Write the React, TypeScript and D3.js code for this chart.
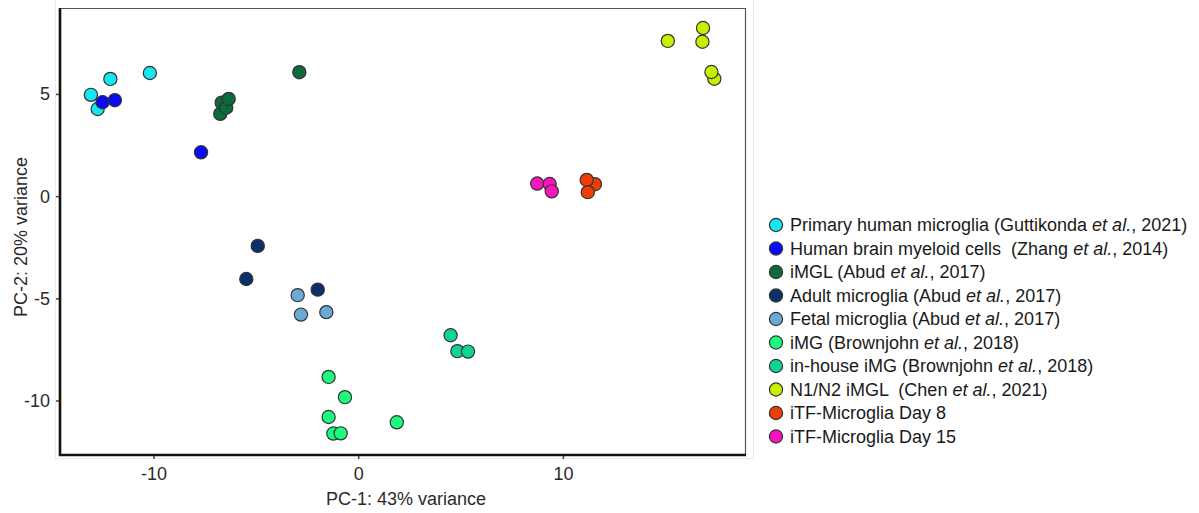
import React from "react";
import * as d3 from "d3";

const groupNames: { pre: string; it?: string; post?: string }[] = [
  { pre: "Primary human microglia (Guttikonda ", it: "et al.", post: ", 2021)" },
  { pre: "Human brain myeloid cells  (Zhang ", it: "et al.", post: ", 2014)" },
  { pre: "iMGL (Abud ", it: "et al.", post: ", 2017)" },
  { pre: "Adult microglia (Abud ", it: "et al.", post: ", 2017)" },
  { pre: "Fetal microglia (Abud ", it: "et al.", post: ", 2017)" },
  { pre: "iMG (Brownjohn ", it: "et al.", post: ", 2018)" },
  { pre: "in-house iMG (Brownjohn ", it: "et al.", post: ", 2018)" },
  { pre: "N1/N2 iMGL  (Chen ", it: "et al.", post: ", 2021)" },
  { pre: "iTF-Microglia Day 8" },
  { pre: "iTF-Microglia Day 15" },
];

const groupColors = [
  "#14E6F2",
  "#0A0AF5",
  "#0B6B3C",
  "#0B2F6B",
  "#6AAAD6",
  "#1BFA7A",
  "#10D398",
  "#C5F000",
  "#F03C05",
  "#FA14BE",
];

// PCA coordinates (PC-1, PC-2) and group index per sample
const pc1 = [
  -13.08, -12.75, -12.13, -10.2,
  -12.51, -11.91, -7.7,
  -2.9, -6.76, -6.69, -6.47, -6.35,
  -4.93, -5.49, -2.0,
  -2.98, -2.82, -1.58,
  -1.47, -0.67, -1.47, -1.24, -0.88, 1.86,
  4.49, 4.82, 5.34,
  15.1, 16.82, 16.79, 17.37, 17.23,
  11.54, 11.14, 11.19,
  8.72, 9.33, 9.43,
];
const pc2 = [
  4.98, 4.29, 5.76, 6.05,
  4.62, 4.72, 2.17,
  6.09, 4.05, 4.6, 4.35, 4.78,
  -2.41, -4.03, -4.55,
  -4.82, -5.77, -5.65,
  -8.82, -9.81, -10.78, -11.59, -11.58, -11.04,
  -6.78, -7.56, -7.58,
  7.62, 8.25, 7.58, 5.77, 6.1,
  0.61, 0.82, 0.22,
  0.64, 0.62, 0.26,
];
const group = [
  0, 0, 0, 0,
  1, 1, 1,
  2, 2, 2, 2, 2,
  3, 3, 3,
  4, 4, 4,
  5, 5, 5, 5, 5, 5,
  6, 6, 6,
  7, 7, 7, 7, 7,
  8, 8, 8,
  9, 9, 9,
];

const xTicks = [-10, 0, 10];
const yTicks = [-10, -5, 0, 5];
const xTitle = "PC-1: 43% variance";
const yTitle = "PC-2: 20% variance";

const W = 1199;
const H = 513;
const FONT = "'Liberation Sans', Arial, sans-serif";

export default function App() {
  const left = 60, right = 745, top = 8, bottom = 455;
  const x = d3.scaleLinear().domain([-14.59, 18.87]).range([left, right]);
  const y = d3.scaleLinear().domain([-12.64, 9.23]).range([bottom, top]);

  const legendX = 776;
  const legendY0 = 225;
  const legendStep = 23.5;

  return (
    <svg
      width={W}
      height={H}
      style={{ position: "absolute", left: 0, top: 0, background: "#fff" }}
      fontFamily={FONT}
    >
      <rect x={0} y={0} width={W} height={H} fill="#fff" />
      {/* faint outer frame */}
      <rect x={55.5} y={-2} width={698} height={460.5} fill="none" stroke="#ebebeb" strokeWidth={1} />
      {/* panel border top/right thin */}
      <path d={`M${left},${top + 0.5}H${right + 0.5}V${bottom}`} fill="none" stroke="#555" strokeWidth={1.2} />
      {/* ticks */}
      {xTicks.map((t) => (
        <line key={"xt" + t} x1={x(t)} x2={x(t)} y1={bottom} y2={bottom + 4} stroke="#444" strokeWidth={1.5} />
      ))}
      {yTicks.map((t) => (
        <line key={"yt" + t} x1={left - 4} x2={left} y1={y(t)} y2={y(t)} stroke="#444" strokeWidth={1.5} />
      ))}
      {/* axis lines */}
      <path d={`M${left},${top}V${bottom}H${right + 1}`} fill="none" stroke="#111" strokeWidth={2.6} />
      {/* tick labels */}
      {xTicks.map((t) => (
        <text key={"xl" + t} x={x(t)} y={480} textAnchor="middle" fontSize={18} fill="#2a2a2a">
          {t}
        </text>
      ))}
      {yTicks.map((t) => (
        <text key={"yl" + t} x={50} y={y(t)} textAnchor="end" dominantBaseline="central" fontSize={18} fill="#2a2a2a">
          {t}
        </text>
      ))}
      {/* axis titles */}
      <text x={406} y={505} textAnchor="middle" fontSize={18} fill="#2a2a2a">
        {xTitle}
      </text>
      <text
        transform={`translate(27,237) rotate(-90)`}
        textAnchor="middle"
        fontSize={18}
        fill="#2a2a2a"
      >
        {yTitle}
      </text>
      {/* points */}
      {pc1.map((v, i) => (
        <circle
          key={"p" + i}
          cx={x(v)}
          cy={y(pc2[i])}
          r={6.6}
          fill={groupColors[group[i]]}
          stroke="#333"
          strokeWidth={1.2}
        />
      ))}
      {/* legend */}
      {groupNames.map((g, i) => {
        const cy = legendY0 + i * legendStep;
        return (
          <g key={"lg" + i}>
            <circle cx={legendX} cy={cy} r={6.6} fill={groupColors[i]} stroke="#333" strokeWidth={1.2} />
            <text x={790} y={cy + 6.3} fontSize={18} fill="#1a1a1a" style={{ whiteSpace: "pre" }}>
              <tspan>{g.pre}</tspan>
              {g.it ? <tspan fontStyle="italic">{g.it}</tspan> : null}
              {g.post ? <tspan>{g.post}</tspan> : null}
            </text>
          </g>
        );
      })}
    </svg>
  );
}
